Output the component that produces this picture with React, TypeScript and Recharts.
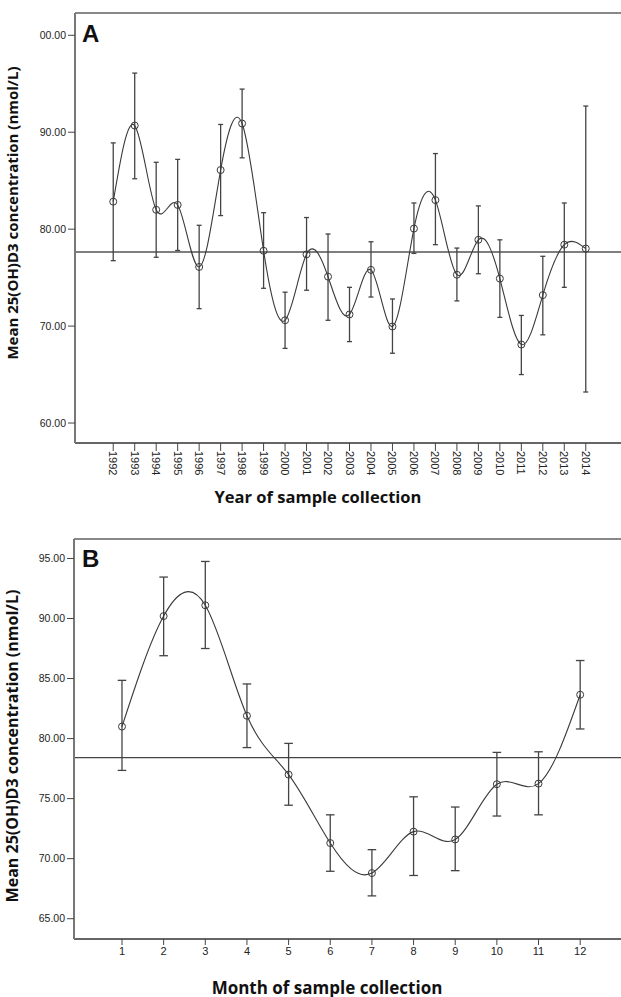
import React from 'react';
import { ComposedChart, Line, ErrorBar, XAxis, YAxis, ReferenceLine } from 'recharts';

// ---------- Panel A data (year) ----------
const yearsA = [1992, 1993, 1994, 1995, 1996, 1997, 1998, 1999, 2000, 2001, 2002, 2003, 2004, 2005, 2006, 2007, 2008, 2009, 2010, 2011, 2012, 2013, 2014];
const meanA = [82.84, 90.69, 82.0, 82.5, 76.1, 86.1, 90.9, 77.77, 70.6, 77.4, 75.1, 71.2, 75.8, 69.96, 80.06, 83.0, 75.3, 78.9, 74.9, 68.1, 73.2, 78.4, 78.0];
const upperA = [88.9, 96.1, 86.9, 87.2, 80.4, 90.8, 94.45, 81.7, 73.5, 81.2, 79.5, 74.0, 78.7, 72.8, 82.7, 87.8, 78.05, 82.4, 78.9, 71.1, 77.2, 82.7, 92.7];
const lowerA = [76.75, 85.2, 77.1, 77.8, 71.8, 81.4, 87.36, 73.9, 67.7, 73.7, 70.6, 68.4, 73.0, 67.2, 77.5, 78.4, 72.6, 75.4, 70.9, 65.0, 69.1, 74.0, 63.2];
const yTicksA = [60, 70, 80, 90, 100];
const yTickLabelsA = ['60.00', '70.00', '80.00', '90.00', '00.00'];
const overallMeanA = 77.64;
const xDomainA: [number, number] = [1990.22, 2015.64];
const yDomainA: [number, number] = [57.94, 102.3];

// ---------- Panel B data (month) ----------
const monthsB = [1, 2, 3, 4, 5, 6, 7, 8, 9, 10, 11, 12];
const meanB = [81.0, 90.2, 91.1, 81.9, 77.0, 71.3, 68.8, 72.25, 71.6, 76.2, 76.25, 83.65];
const upperB = [84.85, 93.45, 94.75, 84.55, 79.6, 73.65, 70.75, 75.15, 74.3, 78.85, 78.9, 86.5];
const lowerB = [77.35, 86.9, 87.5, 79.25, 74.45, 68.95, 66.9, 68.6, 69.0, 73.55, 73.65, 80.8];
const yTicksB = [65, 70, 75, 80, 85, 90, 95];
const yTickLabelsB = ['65.00', '70.00', '75.00', '80.00', '85.00', '90.00', '95.00'];
const overallMeanB = 78.42;
const xDomainB: [number, number] = [-0.152, 12.98];
const yDomainB: [number, number] = [63.31, 96.62];

const yTitle = 'Mean 25(OH)D3 concentration (nmol/L)';
const xTitleA = 'Year of sample collection';
const xTitleB = 'Month of sample collection';

const dataA = yearsA.map((x, i) => ({ x, mean: meanA[i], err: [meanA[i] - lowerA[i], upperA[i] - meanA[i]] }));
const dataB = monthsB.map((x, i) => ({ x, mean: meanB[i], err: [meanB[i] - lowerB[i], upperB[i] - meanB[i]] }));

const TICK_FONT = "'Liberation Sans', Arial, sans-serif";
const TITLE_FONT = "'Open Sans', sans-serif";
const LINE = '#3a3a3a';

const RotTick = (props: any) => {
  const { x, y, payload } = props;
  return (
    <text x={x} y={y} transform={`rotate(90 ${x} ${y})`} textAnchor="start" dominantBaseline="central"
      fontSize={11} fontFamily={TICK_FONT} fill="#222">{payload.value}</text>
  );
};

export default function App() {
  return (
    <div style={{ position: 'absolute', left: 0, top: 0, width: 621, height: 997, overflow: 'hidden', background: '#fff' }}>
      <ComposedChart width={621} height={510} data={dataA} margin={{ top: 13, right: 0, left: 0, bottom: 0 }}>
        <XAxis dataKey="x" type="number" domain={xDomainA} ticks={yearsA} allowDataOverflow interval={0}
          height={67} tickSize={8} tickMargin={0} tick={<RotTick />}
          axisLine={{ stroke: '#666', strokeWidth: 2 }} tickLine={{ stroke: '#444' }} />
        <YAxis type="number" domain={yDomainA} ticks={yTicksA} allowDataOverflow width={75} tickSize={7} tickMargin={2}
          tickFormatter={(v: number, i: number) => yTickLabelsA[i]}
          tick={{ fontSize: 10.5, fontFamily: TICK_FONT, fill: '#222' }}
          axisLine={{ stroke: '#777', strokeWidth: 2 }} tickLine={{ stroke: '#444' }} />
        <ReferenceLine y={yDomainA[1]} stroke="#888" strokeWidth={2} ifOverflow="visible" />
        <ReferenceLine y={overallMeanA} stroke="#555" strokeWidth={1.6} />
        <Line dataKey="mean" type="natural" stroke={LINE} strokeWidth={1.1} isAnimationActive={false}
          dot={{ r: 3.5, stroke: LINE, strokeWidth: 1, fill: 'none' }} activeDot={false}>
          <ErrorBar dataKey="err" direction="y" width={2.5} stroke="#444" strokeWidth={1.3} isAnimationActive={false} />
        </Line>
        <text x={82} y={42} fontSize={24} fontWeight="bold" fontFamily={TICK_FONT} fill="#111">A</text>
        <text x={12} y={213} transform="rotate(-90 12 213)" textAnchor="middle" dominantBaseline="central"
          fontSize={15} fontWeight="bold" fontFamily={TITLE_FONT} fill="#111">{yTitle}</text>
        <text x={318} y={496} textAnchor="middle" dominantBaseline="central"
          fontSize={16.5} fontWeight="bold" fontFamily={TITLE_FONT} fill="#111">{xTitleA}</text>
      </ComposedChart>
      <ComposedChart width={621} height={487} data={dataB} margin={{ top: 29, right: 0, left: 0, bottom: 0 }}>
        <XAxis dataKey="x" type="number" domain={xDomainB} ticks={monthsB} allowDataOverflow interval={0}
          height={58} tickSize={6} tickMargin={2}
          tick={{ fontSize: 11, fontFamily: TICK_FONT, fill: '#222' }}
          axisLine={{ stroke: '#666', strokeWidth: 2 }} tickLine={{ stroke: '#444' }} />
        <YAxis type="number" domain={yDomainB} ticks={yTicksB} allowDataOverflow width={74} tickSize={7} tickMargin={2}
          tickFormatter={(v: number, i: number) => yTickLabelsB[i]}
          tick={{ fontSize: 10.5, fontFamily: TICK_FONT, fill: '#222' }}
          axisLine={{ stroke: '#777', strokeWidth: 2 }} tickLine={{ stroke: '#444' }} />
        <ReferenceLine y={yDomainB[1]} stroke="#888" strokeWidth={2} ifOverflow="visible" />
        <ReferenceLine y={overallMeanB} stroke="#444" strokeWidth={1.3} />
        <Line dataKey="mean" type="natural" stroke={LINE} strokeWidth={1.1} isAnimationActive={false}
          dot={{ r: 3.5, stroke: LINE, strokeWidth: 1, fill: 'none' }} activeDot={false}>
          <ErrorBar dataKey="err" direction="y" width={4.3} stroke="#444" strokeWidth={1.3} isAnimationActive={false} />
        </Line>
        <text x={82} y={57} fontSize={24} fontWeight="bold" fontFamily={TICK_FONT} fill="#111">B</text>
        <text x={12} y={236} transform="rotate(-90 12 236)" textAnchor="middle" dominantBaseline="central"
          fontSize={16} fontWeight="bold" fontFamily={TITLE_FONT} fill="#111">{yTitle}</text>
        <text x={327} y={477} textAnchor="middle" dominantBaseline="central"
          fontSize={17} fontWeight="bold" fontFamily={TITLE_FONT} fill="#111">{xTitleB}</text>
      </ComposedChart>
    </div>
  );
}
